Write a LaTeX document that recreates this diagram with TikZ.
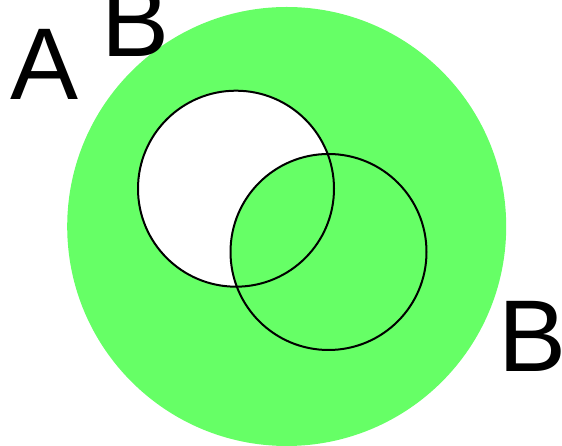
\documentclass[tikz,border=0pt]{standalone}
\usepackage{fontspec}
\setmainfont{Liberation Sans}
\usetikzlibrary{positioning}
\definecolor{setgreen}{RGB}{102,255,102}

\begin{document}
\begin{tikzpicture}[x=1pt, y=1pt,
  edge/.style={draw=black, line width=2pt},
  lbl/.style={anchor=base, inner sep=0pt, font=\fontsize{102}{102}\selectfont},
]
\useasboundingbox (0,0) rectangle (562,446);
\coordinate (uni)  at (286.7,219.5);
\coordinate (seta) at (236,257.3);
\coordinate (setb) at (328.5,194);

\fill[setgreen] (uni) circle[radius=219.5];
\fill[white]    (seta) circle[radius=98];
\fill[setgreen] (setb) circle[radius=98];
% outlines
\path[edge] (seta) circle[radius=98];
\path[edge] (setb) circle[radius=98];

\node[lbl] (la)  at (45,346)  {A};
\node[lbl] (lb)  at (136,389) {B};
\node[lbl] (lb2) at (533,74)  {B};
\end{tikzpicture}
\end{document}
